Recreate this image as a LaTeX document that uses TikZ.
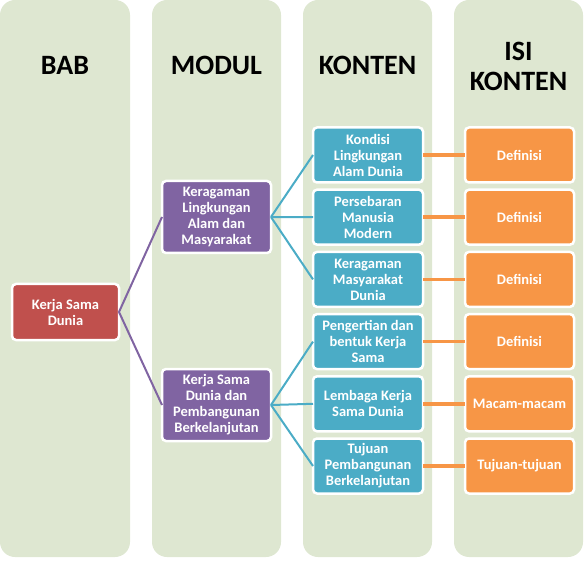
\documentclass[tikz,border=0pt]{standalone}
\usepackage{fontspec}
\setmainfont{Carlito}
\usetikzlibrary{positioning}

\definecolor{panelgreen}{RGB}{222,231,209}
\definecolor{babred}{RGB}{192,80,77}
\definecolor{modpurple}{RGB}{128,100,162}
\definecolor{kontblue}{RGB}{75,172,198}
\definecolor{isiorange}{RGB}{247,150,70}

\begin{document}
\begin{tikzpicture}[
  x=1pt, y=-1pt,
  node distance=7.2pt,
  panel/.style={fill=panelgreen, rounded corners=15pt},
  hdr/.style={font=\fontsize{28}{30}\selectfont\bfseries, align=center, text=black},
  box/.style={rectangle, draw=white, line width=2.5pt, rounded corners=4pt, outer sep=0pt,
    inner sep=1pt, align=center, text=white, font=\fontsize{14.5}{16}\selectfont\bfseries},
  babbox/.style={box, fill=babred, minimum width=107pt, minimum height=56pt},
  modbox/.style={box, fill=modpurple, minimum width=109pt, minimum height=72pt},
  kontbox/.style={box, fill=kontblue, minimum width=110pt, minimum height=55pt},
  isibox/.style={box, fill=isiorange, minimum width=109pt, minimum height=55pt},
  modlink/.style={draw=modpurple, line width=2pt},
  kontlink/.style={draw=kontblue, line width=2pt},
  isilink/.style={draw=isiorange, line width=3.5pt}
]
\useasboundingbox (0,0) rectangle (584,564);

% Column panels
\fill[panel] (0,0) rectangle (130,557);
\fill[panel] (152,0) rectangle (281,557);
\fill[panel] (303,0) rectangle (432,557);
\fill[panel] (454,0) rectangle (583,557);

% Headers
\node[hdr] (hbab) at (65,65) {BAB};
\node[hdr] (hmodul) at (216.5,65) {MODUL};
\node[hdr] (hkonten) at (367.5,65) {KONTEN};
\node[hdr] (hisi) at (518.5,66) {ISI\\KONTEN};

% Bab
\node[babbox] (bab) at (65.5,312) {Kerja Sama\\Dunia};

% Modul
\node[modbox] (lingkungan) at (216.5,217) {Keragaman\\Lingkungan\\Alam dan\\Masyarakat};
\node[modbox] (pembangunan) at (216.5,405) {Kerja Sama\\Dunia dan\\Pembangunan\\Berkelanjutan};

% Konten
\node[kontbox] (kondisi) at (368,155) {Kondisi\\Lingkungan\\Alam Dunia};
\node[kontbox, below=of kondisi] (persebaran) {Persebaran\\Manusia\\Modern};
\node[kontbox, below=of persebaran] (keragaman) {Keragaman\\Masyarakat\\Dunia};
\node[kontbox, below=of keragaman] (pengertian) {Pengertian dan\\bentuk Kerja\\Sama};
\node[kontbox, below=of pengertian] (lembaga) {Lembaga Kerja\\Sama Dunia};
\node[kontbox, below=of lembaga] (tujuan) {Tujuan\\Pembangunan\\Berkelanjutan};

% Isi konten
\node[isibox, right=42pt of kondisi] (isikondisi) {Definisi};
\node[isibox, right=42pt of persebaran] (isipersebaran) {Definisi};
\node[isibox, right=42pt of keragaman] (isikeragaman) {Definisi};
\node[isibox, right=42pt of pengertian] (isipengertian) {Definisi};
\node[isibox, right=42pt of lembaga] (isilembaga) {Macam-macam};
\node[isibox, right=42pt of tujuan] (isitujuan) {Tujuan-tujuan};

% Connectors
\draw[modlink] (bab.east) -- (lingkungan.west);
\draw[modlink] (bab.east) -- (pembangunan.west);
\draw[kontlink] (lingkungan.east) -- (kondisi.west);
\draw[kontlink] (lingkungan.east) -- (persebaran.west);
\draw[kontlink] (lingkungan.east) -- (keragaman.west);
\draw[kontlink] (pembangunan.east) -- (pengertian.west);
\draw[kontlink] (pembangunan.east) -- (lembaga.west);
\draw[kontlink] (pembangunan.east) -- (tujuan.west);
\draw[isilink] (kondisi) -- (isikondisi);
\draw[isilink] (persebaran) -- (isipersebaran);
\draw[isilink] (keragaman) -- (isikeragaman);
\draw[isilink] (pengertian) -- (isipengertian);
\draw[isilink] (lembaga) -- (isilembaga);
\draw[isilink] (tujuan) -- (isitujuan);

\end{tikzpicture}
\end{document}
